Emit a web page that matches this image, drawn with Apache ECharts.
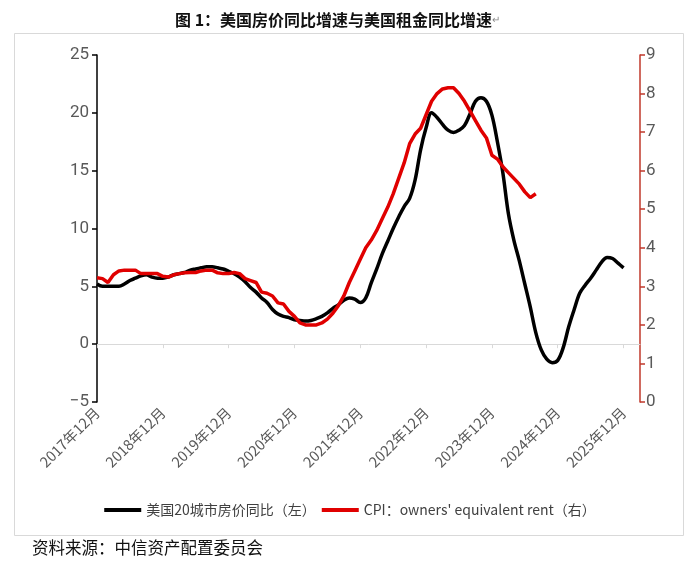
<!DOCTYPE html>
<html>
<head>
<meta charset="utf-8">
<script src="https://cdn.jsdelivr.net/npm/echarts@6/dist/echarts.min.js"></script>
<style>
html,body{margin:0;padding:0;background:#fff;}
#c{width:700px;height:568px;}
</style>
</head>
<body>
<div id="c"></div>
<script>
// Months Dec 2017 .. Mar 2026
const startYear = 2017, startMonth = 12, monthCount = 100;
const categories = [];
for (let i = 0; i < monthCount; i++) {
  const m = (startMonth - 1 + i) % 12 + 1;
  const y = startYear + Math.floor((startMonth - 1 + i) / 12);
  categories.push(y + '年' + m + '月');
}

const titleText = '图 1：美国房价同比增速与美国租金同比增速';
const sourceText = '资料来源：中信资产配置委员会';
const seriesNames = ['美国20城市房价同比（左）', 'CPI：owners\' equivalent rent（右）'];

const leftTicks = { min: -5, max: 25, interval: 5 };
const rightTicks = { min: 0, max: 9, interval: 1 };

// 美国20城市房价同比 (left axis, %)
const housePrice = [
  5.2, 5.0, 5.0, 5.0, 5.0, 5.2, 5.5, 5.7, 5.9, 6.0,
  5.8, 5.7, 5.7, 5.8, 6.0, 6.1, 6.2, 6.4, 6.5, 6.6,
  6.7, 6.7, 6.6, 6.5, 6.3, 6.1, 5.8, 5.4, 4.9, 4.5,
  4.0, 3.6, 3.0, 2.6, 2.4, 2.3, 2.1, 2.05, 2.0, 2.05,
  2.2, 2.4, 2.7, 3.1, 3.4, 3.8, 4.0, 3.9, 3.6, 4.0,
  5.3, 6.5, 7.8, 8.9, 10.0, 11.0, 11.9, 12.6, 14.2, 16.8,
  18.7, 20.0, 19.6, 19.0, 18.5, 18.3, 18.5, 18.9, 19.9, 21.0,
  21.3, 21.0, 19.8, 17.5, 14.8, 11.3, 9.0, 7.2, 5.2, 3.2,
  1.0, -0.5, -1.3, -1.6, -1.4, -0.3, 1.5, 3.0, 4.4, 5.1,
  5.7, 6.4, 7.1, 7.5, 7.4, 7.0, 6.6
];

// CPI: owners' equivalent rent (right axis, %)
const oerRent = [
  3.22, 3.2, 3.1, 3.3, 3.4, 3.42, 3.42, 3.42, 3.33, 3.33,
  3.33, 3.33, 3.26, 3.24, 3.3, 3.33, 3.35, 3.36, 3.36, 3.4,
  3.42, 3.42, 3.35, 3.33, 3.33, 3.36, 3.33, 3.2, 3.15, 3.1,
  2.85, 2.82, 2.75, 2.57, 2.54, 2.35, 2.22, 2.05, 2.0, 2.0,
  2.0, 2.05, 2.15, 2.3, 2.5, 2.75, 3.1, 3.4, 3.7, 4.0,
  4.2, 4.45, 4.75, 5.05, 5.4, 5.8, 6.2, 6.7, 6.95, 7.1,
  7.45, 7.8, 8.0, 8.12, 8.15, 8.15, 8.0, 7.8, 7.55, 7.3,
  7.05, 6.85, 6.4, 6.3, 6.1, 5.95, 5.8, 5.65, 5.45, 5.3,
  5.4
];

const chart = echarts.init(document.getElementById('c'), null, { renderer: 'canvas' });
const cjk = '"Noto Sans CJK SC", "Noto Sans", sans-serif';
const axisGray = '#595959';
const redLine = '#e00000';
const redAxis = '#c0392b';

chart.setOption({
  backgroundColor: '#fff',
  animation: false,
  title: {
    text: titleText,
    left: 170,
    top: 7,
    textStyle: { fontFamily: cjk, fontSize: 16, fontWeight: 'bold', color: '#111' }
  },
  graphic: [
    { type: 'rect', shape: { x: 14.5, y: 33.5, width: 669, height: 502 },
      style: { fill: 'none', stroke: '#d9d9d9', lineWidth: 1 }, z: -1 },
    { type: 'text', left: 492, top: 14,
      style: { text: '\u21b5', font: '10px ' + cjk, fill: '#888' } },
    { type: 'text', left: 32, top: 539,
      style: { text: sourceText, font: '16.5px ' + cjk, fill: '#111' } }
  ],
  legend: {
    bottom: 46,
    left: 'center',
    itemWidth: 37,
    itemHeight: 4,
    itemGap: 6,
    icon: 'rect',
    textStyle: { fontFamily: cjk, fontSize: 14, color: '#404040' },
    data: seriesNames
  },
  grid: { left: 97, right: 60, top: 55, bottom: 166, containLabel: false },
  xAxis: {
    type: 'category',
    data: categories,
    boundaryGap: false,
    axisLine: { lineStyle: { color: '#d9d9d9', width: 1 } },
    axisTick: { show: true, interval: 11, length: 4, lineStyle: { color: '#d9d9d9' } },
    axisLabel: { interval: 11, rotate: 45, color: axisGray, fontSize: 14.5, fontFamily: cjk, margin: 8 },
    splitLine: { show: false }
  },
  yAxis: [
    {
      type: 'value', position: 'left',
      min: leftTicks.min, max: leftTicks.max, interval: leftTicks.interval,
      axisLine: { show: true, lineStyle: { color: '#000', width: 1.5 } },
      axisTick: { show: true, length: 5, lineStyle: { color: '#000', width: 1.5 } },
      axisLabel: { color: axisGray, fontSize: 17, fontFamily: 'Roboto, "Noto Sans", sans-serif', margin: 8,
        formatter: v => v < 0 ? '\u2212' + Math.abs(v) : String(v) },
      splitLine: { show: false }
    },
    {
      type: 'value', position: 'right',
      min: rightTicks.min, max: rightTicks.max, interval: rightTicks.interval,
      axisLine: { show: true, lineStyle: { color: redAxis, width: 1.5 } },
      axisTick: { show: true, length: 5, lineStyle: { color: redAxis, width: 1.5 } },
      axisLabel: { color: axisGray, fontSize: 17, fontFamily: 'Roboto, "Noto Sans", sans-serif', margin: 6 },
      splitLine: { show: false }
    }
  ],
  series: [
    {
      name: seriesNames[0], type: 'line', yAxisIndex: 0,
      data: housePrice, showSymbol: false, smooth: 0.35,
      lineStyle: { color: '#000', width: 3.5 }, itemStyle: { color: '#000' }, z: 2
    },
    {
      name: seriesNames[1], type: 'line', yAxisIndex: 1,
      data: oerRent, showSymbol: false, smooth: false,
      lineStyle: { color: redLine, width: 3.5 }, itemStyle: { color: redLine }, z: 3
    }
  ]
});
</script>
</body>
</html>
